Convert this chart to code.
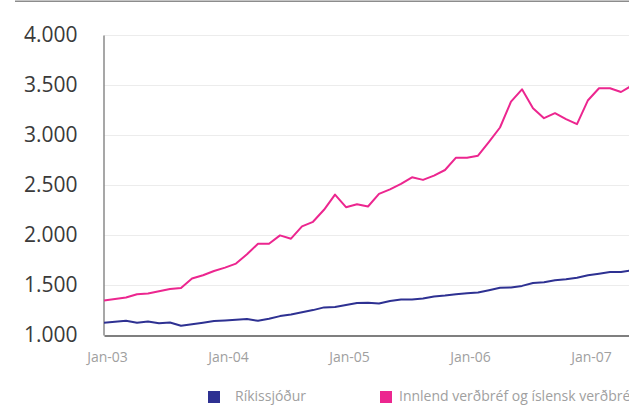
<!DOCTYPE html>
<html>
<head>
<meta charset="utf-8">
<script src="https://cdn.jsdelivr.net/npm/d3@7"></script>
<style>
    body { margin: 0; overflow: hidden; background: #fff; }
</style>
</head>
<body>
<div id="chart"></div>
<script>
//  Series values, one point per category step
let rikissjodur = [
    1123, 1132, 1142, 1123, 1136, 1117, 1125, 1093, 1108, 1123,
    1139, 1146, 1153, 1159, 1142, 1162, 1189, 1206, 1227, 1249,
    1276, 1279, 1299, 1319, 1322, 1314, 1339, 1354, 1354, 1364,
    1385, 1395, 1408, 1418, 1425, 1448, 1473, 1476, 1491, 1520,
    1528, 1548, 1558, 1573, 1598, 1613, 1629, 1629, 1647
];
let innlend = [
    1346, 1360, 1375, 1408, 1415, 1438, 1461, 1471, 1565, 1598,
    1640, 1674, 1714, 1807, 1913, 1913, 1996, 1963, 2086, 2132,
    2252, 2404, 2278, 2308, 2285, 2411, 2457, 2511, 2577, 2551,
    2594, 2650, 2773, 2773, 2793, 2932, 3075, 3334, 3457, 3268,
    3168, 3218, 3158, 3108, 3348, 3467, 3467, 3430, 3495
];

//  X tick labels and the category index each sits on
let xTickLabels = ["Jan-03", "Jan-04", "Jan-05", "Jan-06", "Jan-07"];
let xTickIndex = [0, 11, 22, 33, 44];

//  Y ticks
let yTicks = [1000, 1500, 2000, 2500, 3000, 3500, 4000];

let seriesNames = ["Ríkissjóður", "Innlend verðbréf og íslensk verðbréf"];
let seriesColors = ["#2e3192", "#ec268f"];

let width = 629;
let height = 410;
let margin = { top: 35, left: 104, bottom: 75 };
let step = 11;

let x = d3
    .scaleLinear()
    .domain([0, rikissjodur.length - 1])
    .range([margin.left, margin.left + step * (rikissjodur.length - 1)]);

let y = d3
    .scaleLinear()
    .domain([1000, 4000])
    .range([height - margin.bottom, margin.top]);

let svg = d3
    .select("#chart")
    .append("svg")
    .attr("width", width)
    .attr("height", height)
    .style("overflow", "hidden");

//  Rule along the top
svg.append("rect")
    .attr("x", 15)
    .attr("y", 0.5)
    .attr("width", width - 15)
    .attr("height", 1.5)
    .style("fill", "#8c8c8c");

//  Gridlines
svg.append("g")
    .selectAll("line")
    .data(yTicks.slice(1))
    .join("line")
    .attr("x1", margin.left)
    .attr("x2", width)
    .attr("y1", (d) => Math.round(y(d)) + 0.5)
    .attr("y2", (d) => Math.round(y(d)) + 0.5)
    .style("stroke", "#ececec")
    .style("stroke-width", 1);

//  Y axis
let yAxis = (g) =>
    g
        .attr("transform", `translate(${margin.left - 0.5},0)`)
        .call(
            d3
                .axisLeft(y)
                .tickValues(yTicks)
                .tickSize(0)
                .tickPadding(26)
                .tickFormat((d) => d3.format(",")(d).replace(",", "."))
        )
        .call((g) => g.select(".domain").style("stroke", "#8a8a8a").style("stroke-width", 1.5))
        .call((g) =>
            g
                .selectAll("text")
                .style("font-family", "'Open Sans', sans-serif")
                .style("font-size", "21px")
                .style("fill", "#3a3a3a")
        );

//  X axis
let xAxis = (g) =>
    g
        .attr("transform", `translate(0,${height - margin.bottom + 0.5})`)
        .call(
            d3
                .axisBottom(x)
                .tickValues(xTickIndex)
                .tickSize(0)
                .tickPadding(17)
                .tickFormat((d, i) => xTickLabels[i])
        )
        .call((g) => g.select(".domain").style("stroke", "#555").style("stroke-width", 1.5))
        .call((g) =>
            g
                .selectAll("text")
                .attr("dx", 3)
                .style("font-family", "'Open Sans', sans-serif")
                .style("font-size", "14px")
                .style("fill", "#a0a0a0")
        );

svg.append("g").call(yAxis);

//  Lines
let line = d3
    .line()
    .x((d, i) => x(i))
    .y((d) => y(d));

[rikissjodur, innlend].forEach((series, i) => {
    svg.append("path")
        .datum(series)
        .attr("d", line)
        .style("fill", "none")
        .style("stroke", seriesColors[i])
        .style("stroke-width", 2)
        .style("stroke-linejoin", "round");
});

svg.append("g").call(xAxis);

// Handmade legend
let legendX = [208, 380];
let legendTextX = [235, 399];
seriesNames.forEach((name, i) => {
    svg.append("rect")
        .attr("x", legendX[i])
        .attr("y", 391)
        .attr("width", 12)
        .attr("height", 12)
        .style("fill", seriesColors[i]);
    svg.append("text")
        .attr("x", legendTextX[i])
        .attr("y", 397)
        .text(name)
        .style("font-family", "'Open Sans', sans-serif")
        .style("font-size", "14px")
        .style("fill", "#a0a0a0")
        .attr("dominant-baseline", "middle");
});
</script>
</body>
</html>
